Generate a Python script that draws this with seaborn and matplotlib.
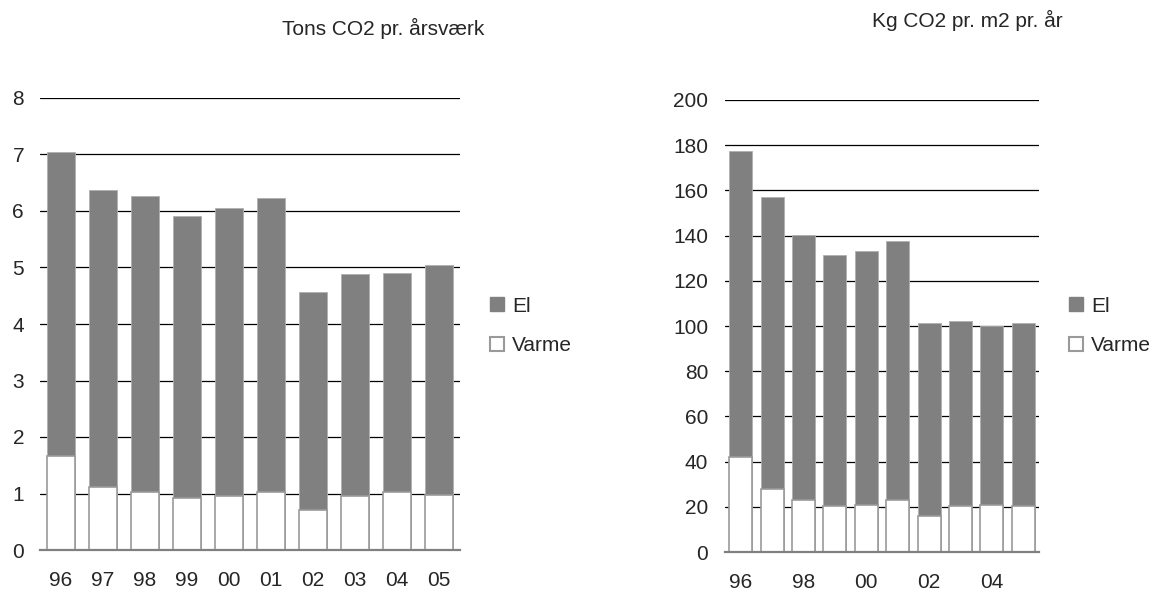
import pandas as pd
import seaborn as sns
import matplotlib.pyplot as plt
from matplotlib.patches import Patch

sns.set_style('white')
plt.rcParams['font.family'] = ['Liberation Sans', 'DejaVu Sans']

years = ["96", "97", "98", "99", "00", "01", "02", "03", "04", "05"]

# Tons CO2 pr. årsværk
el_ton = [5.38, 5.25, 5.24, 5.00, 5.10, 5.20, 3.87, 3.93, 3.88, 4.07]
varme_ton = [1.67, 1.12, 1.03, 0.92, 0.95, 1.03, 0.70, 0.95, 1.03, 0.98]

# Kg CO2 pr. m2 pr. år
el_kg = [135.4, 129.0, 117.5, 111.0, 112.2, 114.7, 85.7, 82.0, 79.1, 81.3]
varme_kg = [42.1, 28.0, 22.8, 20.2, 20.9, 22.8, 15.8, 20.2, 20.9, 20.2]

el_color = "#808080"
varme_edge = "#9a9a9a"
text_size = 15

W, H = 1155, 590


def draw_panel(ax, el, varme, ymax, step, xticks_every, bar_width, ypad):
    df = pd.DataFrame({"year": years, "El": el, "Varme": varme})
    df["total"] = df["El"] + df["Varme"]

    # total bar in grey, heat part painted white over the bottom
    sns.barplot(data=df, x="year", y="total", color=el_color, saturation=1,
                width=bar_width, edgecolor="#b0b0b0", linewidth=0.6, ax=ax, zorder=2)
    sns.barplot(data=df, x="year", y="Varme", color="white", saturation=1,
                width=bar_width, edgecolor=varme_edge, linewidth=1.2, ax=ax, zorder=3)

    ax.set_ylim(0, ymax)
    ax.set_xlim(-0.5, len(years) - 0.5)
    ax.set_yticks(range(0, ymax + 1, step))
    ax.yaxis.grid(True, color="black", linewidth=0.9, zorder=1)
    ax.set_axisbelow(True)
    for s in ["top", "right", "left"]:
        ax.spines[s].set_visible(False)
    ax.spines["bottom"].set_color("#808080")
    ax.spines["bottom"].set_linewidth(1.6)
    ax.spines["bottom"].set_zorder(4)

    ax.set_xticks(range(0, len(years), xticks_every))
    ax.set_xticklabels(years[::xticks_every])
    ax.tick_params(axis="both", length=0, labelsize=text_size)
    ax.tick_params(axis="x", pad=15)
    ax.tick_params(axis="y", pad=ypad)
    ax.set_xlabel("")
    ax.set_ylabel("")


fig = plt.figure(figsize=(W / 100, H / 100), dpi=100)
ax1 = fig.add_axes([40 / W, 40 / H, 420 / W, 452 / H])
ax2 = fig.add_axes([725 / W, 38 / H, 314 / W, 452 / H])

draw_panel(ax1, el_ton, varme_ton, 8, 1, 1, 0.69, 11.5)
draw_panel(ax2, el_kg, varme_kg, 200, 20, 2, 0.73, 12)

fig.text(383 / W, 1 - 35 / H, "Tons CO2 pr. årsværk", ha="center", va="baseline",
         fontsize=text_size)
fig.text(967 / W, 1 - 27 / H, "Kg CO2 pr. m2 pr. år", ha="center", va="baseline",
         fontsize=text_size)

handles = [Patch(facecolor=el_color, edgecolor=el_color, label="El"),
           Patch(facecolor="white", edgecolor=varme_edge, linewidth=1.5, label="Varme")]
for x in [490, 1069]:
    fig.legend(handles=handles, loc="center left", bbox_to_anchor=(x / W, 1 - 326 / H),
               frameon=False, fontsize=text_size, handlelength=0.65, handleheight=0.65,
               handletextpad=0.4, labelspacing=1.0, borderpad=0, borderaxespad=0)

plt.savefig("out.png", dpi=100)
plt.close()
